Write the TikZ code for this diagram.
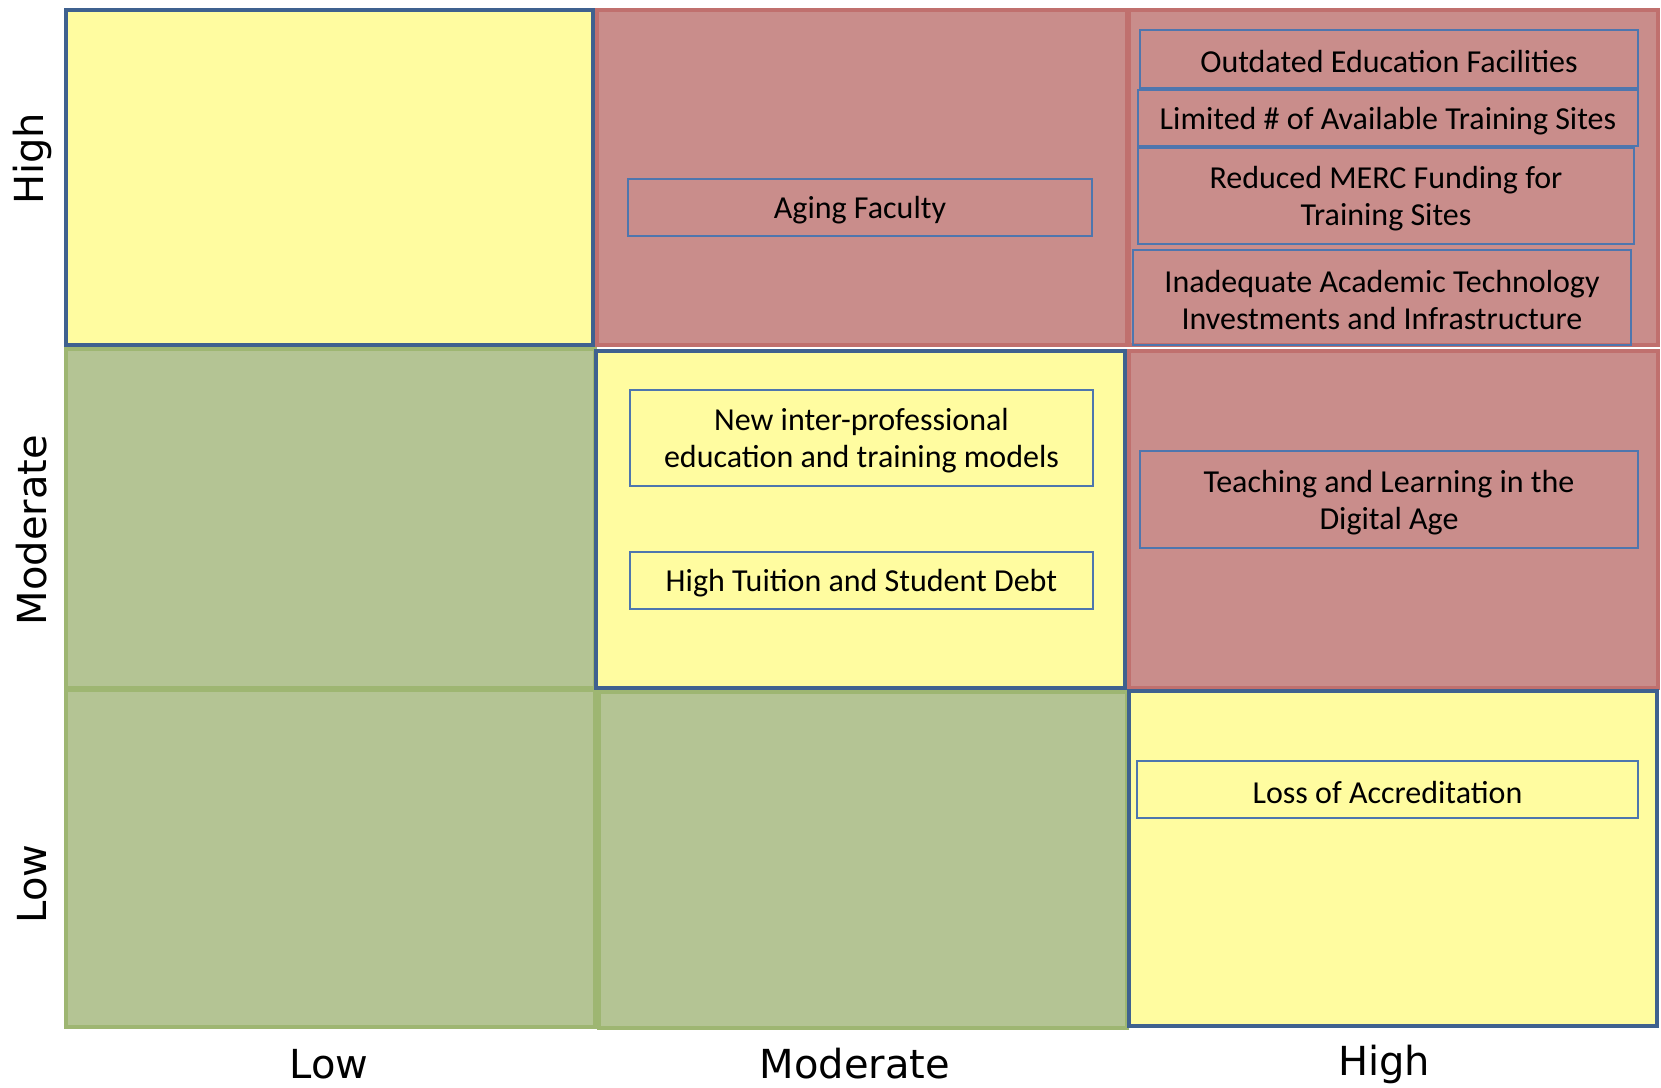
\documentclass[tikz,border=0pt]{standalone}
\usepackage{fontspec}
\setmainfont{Carlito}
\newfontfamily\axisfont{DejaVu Sans}
\definecolor{yfill}{RGB}{255,252,160}
\definecolor{rfill}{RGB}{201,141,139}
\definecolor{rline}{RGB}{192,112,110}
\definecolor{gfill}{RGB}{180,196,148}
\definecolor{gline}{RGB}{158,182,114}
\definecolor{bline}{RGB}{63,97,143}
\definecolor{iline}{RGB}{78,118,174}
\tikzset{
  cellbox/.style={draw, line width=4pt, inner sep=0pt, outer sep=0pt},
  ycell/.style={cellbox, fill=yfill, draw=bline},
  rcell/.style={cellbox, fill=rfill, draw=rline},
  gcell/.style={cellbox, fill=gfill, draw=gline},
  ibox/.style={draw=iline, line width=1.6pt, inner sep=0pt},
  itext/.style={inner sep=0pt, align=center, font=\fontsize{32}{37}\selectfont},
  axlab/.style={font=\axisfont\fontsize{40}{44}\selectfont, inner sep=0pt}
}
\begin{document}
\begin{tikzpicture}[x=1pt,y=-1pt]
\useasboundingbox[fill=white] (0,0) rectangle (1661,1087);
% green cells
\node[gcell, minimum width=529pt, minimum height=339pt] (c21) at (330.5,518.5) {};
\node[gcell, minimum width=529pt, minimum height=337pt] (c31) at (330.5,858.5) {};
\node[gcell, minimum width=528pt, minimum height=336pt] (c32) at (863,860) {};
% red cells
\node[rcell, minimum width=530pt, minimum height=335pt] (c12) at (862,177.5) {};
\node[rcell, minimum width=529pt, minimum height=335pt] (c13) at (1393.5,177.5) {};
\node[rcell, minimum width=529pt, minimum height=337pt] (c23) at (1393.5,519.5) {};
% yellow cells
\node[ycell, minimum width=527pt, minimum height=335pt] (c11) at (329.5,177.5) {};
\node[ycell, minimum width=529pt, minimum height=337pt] (c22) at (860.5,519.5) {};
\node[ycell, minimum width=528pt, minimum height=335pt] (c33) at (1393,858.5) {};
% inner boxes
\node[ibox, minimum width=464pt, minimum height=57pt] (aging) at (860,207.5) {};
\node[ibox, minimum width=498pt, minimum height=58pt] (outdated) at (1389,59) {};
\node[ibox, minimum width=500pt, minimum height=56pt] (limited) at (1388,118) {};
\node[ibox, minimum width=496pt, minimum height=96pt] (merc) at (1386,196) {};
\node[ibox, minimum width=498pt, minimum height=95pt] (tech) at (1382,297.5) {};
\node[ibox, minimum width=463pt, minimum height=96pt] (newip) at (861.5,438) {};
\node[ibox, minimum width=463pt, minimum height=57pt] (tuition) at (861.5,580.5) {};
\node[ibox, minimum width=498pt, minimum height=97pt] (digital) at (1389,499.5) {};
\node[ibox, minimum width=501pt, minimum height=57pt] (accred) at (1387.5,789.5) {};
% texts
\node[itext] (agingt) at ([yshift=-3pt]aging.center) {Aging Faculty};
\node[itext] (outdatedt) at ([yshift=-3pt]outdated.center) {Outdated Education Facilities};
\node[itext] (limitedt) at ([yshift=-3pt]limited.center) {Limited \# of Available Training Sites};
\node[itext] (merct) at ([yshift=-3pt]merc.center) {Reduced MERC Funding for\\Training Sites};
\node[itext] (techt) at ([yshift=-3pt]tech.center) {Inadequate Academic Technology\\Investments and Infrastructure};
\node[itext] (newipt) at ([yshift=-3pt]newip.center) {New inter-professional\\education and training models};
\node[itext] (tuitiont) at ([yshift=-3pt]tuition.center) {High Tuition and Student Debt};
\node[itext] (digitalt) at ([yshift=-3pt]digital.center) {Teaching and Learning in the\\Digital Age};
\node[itext] (accredt) at ([yshift=-3pt]accred.center) {Loss of Accreditation};
% axis labels
\node[axlab, rotate=90] (yhigh) at (32,159) {High};
\node[axlab, rotate=90] (ymod) at (32,530) {Moderate};
\node[axlab, rotate=90] (ylow) at (32,884) {Low};
\node[axlab] (xlow) at (329,1064) {Low};
\node[axlab] (xmod) at (855,1064) {Moderate};
\node[axlab] (xhigh) at (1384,1064) {High};
\end{tikzpicture}
\end{document}
